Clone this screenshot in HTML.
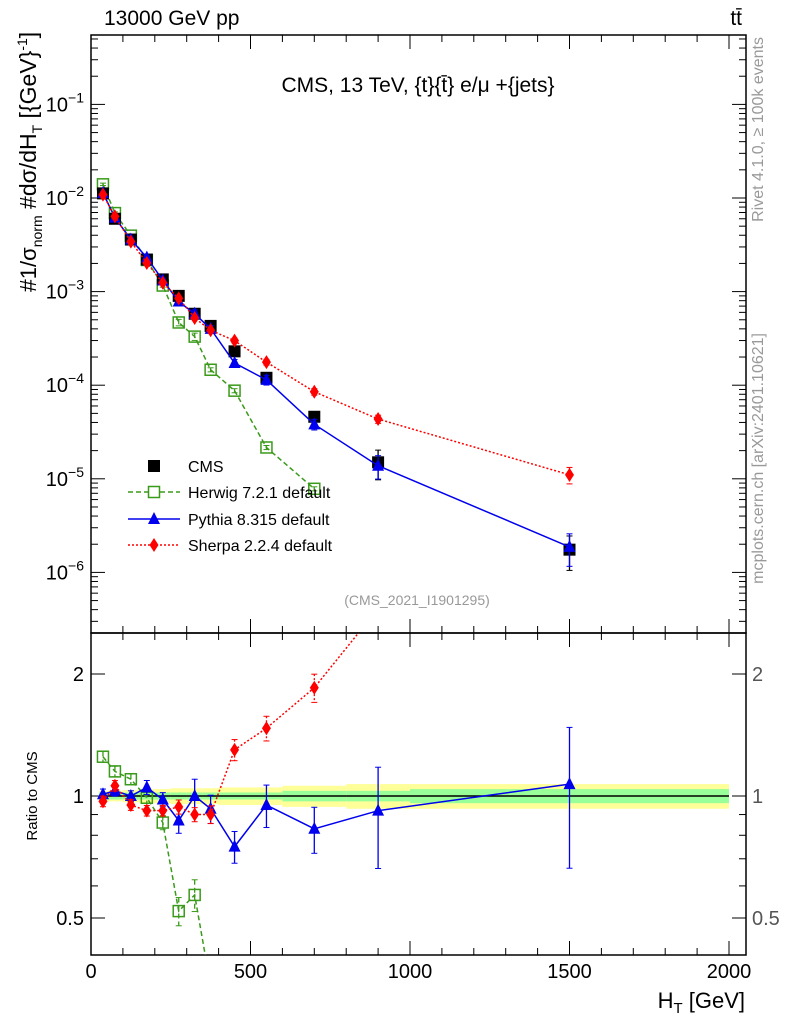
<!DOCTYPE html>
<html><head><meta charset="utf-8"><style>
html,body{margin:0;padding:0;background:#fff;overflow:hidden;width:786px;height:1024px}
svg{display:block}
svg text{font-family:"Liberation Sans",sans-serif}
</style></head><body>
<svg id="c" width="786" height="1024" xmlns="http://www.w3.org/2000/svg">
<rect width="786" height="1024" fill="#fff"/>
<g id="g"></g>
</svg>
<script>
const binsX=[37.5,75,125,175,225,275,325,375,450,550,700,900,1500];
const binEdges=[25,50,100,150,200,250,300,350,400,500,600,800,1000,2000];
const cmsVals=[1.12e-2,6.0e-3,3.6e-3,2.2e-3,1.35e-3,9.0e-4,5.8e-4,4.3e-4,2.3e-4,1.2e-4,4.6e-5,1.5e-5,1.75e-6];
const cmsErr=[0.03,0.03,0.03,0.03,0.03,0.04,0.04,0.05,0.06,0.07,0.1,0.35,0.4];
const bandGreen=[0.02,0.02,0.02,0.02,0.02,0.02,0.02,0.02,0.02,0.02,0.03,0.03,0.04];
const bandYellow=[0.03,0.03,0.035,0.04,0.04,0.045,0.045,0.045,0.05,0.05,0.06,0.07,0.07];
const herwigRatio=[1.25,1.15,1.1,0.99,0.86,0.52,0.57,0.34,0.38,0.18,0.17];
const herwigErr=[0.03,0.03,0.03,0.03,0.04,0.08,0.09,0.05,0.05,0.05,0.05];
const pythiaRatio=[1.01,1.03,1.0,1.05,0.98,0.87,1.0,0.93,0.75,0.95,0.83,0.92,1.07];
const pythiaErr=[0.03,0.03,0.03,0.04,0.04,0.07,0.1,0.08,0.09,0.12,0.13,0.28,0.38];
const sherpaRatio=[0.97,1.06,0.95,0.92,0.92,0.94,0.9,0.9,1.3,1.47,1.85,2.9,6.3];
const sherpaErr=[0.03,0.03,0.03,0.03,0.03,0.04,0.04,0.05,0.06,0.07,0.08,0.1,0.2];
const xTicks=[0,500,1000,1500,2000];
const yMainTicks=[-6,-5,-4,-3,-2,-1];
const yRatioTicks=[0.5,1,2];

const NS="http://www.w3.org/2000/svg";
const G=document.getElementById('g');
const L=91,R=746,T=35,MB=633,RB=955;
const X=v=>91+v*0.319;
const YM=v=>198-(Math.log10(v)+2)*93.6;
const YR=v=>796-Math.log2(v)*122;
function el(tag,at,parent){const e=document.createElementNS(NS,tag);for(const k in at)e.setAttribute(k,at[k]);(parent||G).appendChild(e);return e;}
function txt(s,at,parent){const e=el('text',at,parent);e.textContent=s;return e;}

const defs=el('defs',{});
const c1=el('clipPath',{id:'cm'},defs);el('rect',{x:L,y:T,width:R-L,height:MB-T},c1);
const c2=el('clipPath',{id:'cr'},defs);el('rect',{x:L,y:MB,width:R-L,height:RB-MB},c2);

const gb=el('g',{'clip-path':'url(#cr)'});


for(let i=0;i<binsX.length;i++){
  const x0=X(binEdges[i]),x1=X(binEdges[i+1]);
  el('rect',{x:x0,y:YR(1+bandYellow[i]),width:x1-x0,height:YR(1-bandYellow[i])-YR(1+bandYellow[i]),fill:'#ffff99'},gb);
  el('rect',{x:x0,y:YR(1+bandGreen[i]),width:x1-x0,height:YR(1-bandGreen[i])-YR(1+bandGreen[i]),fill:'#99ff99'},gb);
}
el('line',{x1:X(binEdges[0]),x2:X(2000),y1:YR(1),y2:YR(1),stroke:'#000','stroke-width':1.5},gb);

const f1=el('rect',{x:L,y:T,width:R-L,height:MB-T,fill:'none',stroke:'#000','stroke-width':1.5});


const f2=el('rect',{x:L,y:MB,width:R-L,height:RB-MB,fill:'none',stroke:'#000','stroke-width':1.5});



for(let v=0;v<=2050;v+=100){
  const big=v%500===0, x=X(v); if(x>R)break;
  const h=big?14:7;
  el('line',{x1:x,x2:x,y1:T,y2:T+h,stroke:'#000'});
  el('line',{x1:x,x2:x,y1:MB,y2:MB-h,stroke:'#000'});
  el('line',{x1:x,x2:x,y1:MB,y2:MB+h,stroke:'#000'});
  el('line',{x1:x,x2:x,y1:RB,y2:RB-h,stroke:'#000'});
}
xTicks.forEach(v=>{const t=txt(String(v),{x:X(v),y:978,'font-size':20,'text-anchor':'middle'});

});
const xt=txt('',{x:745,y:1008,'font-size':22,'text-anchor':'end'});
xt.innerHTML='H<tspan font-size="15" dy="5">T</tspan><tspan dy="-5"> [GeV]</tspan>';



for(let d=-7;d<=0;d++){for(let m=1;m<10;m++){const v=m*Math.pow(10,d);const y=YM(v);if(y<T||y>MB)continue;
 const h=m===1?14:7;
 el('line',{x1:L,x2:L+h,y1:y,y2:y,stroke:'#000'});el('line',{x1:R,x2:R-h,y1:y,y2:y,stroke:'#000'});}}
yMainTicks.forEach(p=>{const t=txt('',{x:84,y:YM(Math.pow(10,p))+7,'font-size':20,'text-anchor':'end'});
t.innerHTML='10<tspan font-size="14" dy="-9">'+(p<0?'−':'')+Math.abs(p)+'</tspan>';

});
[0.4,0.5,0.6,0.7,0.8,0.9,1,2].forEach(v=>{const y=YR(v);if(y>RB)return;const h=(v===1||v===2||v===0.5)?14:7;
 el('line',{x1:L,x2:L+h,y1:y,y2:y,stroke:'#000'});el('line',{x1:R,x2:R-h,y1:y,y2:y,stroke:'#000'});});
yRatioTicks.forEach(v=>{const s=String(v);
 const a=txt(s,{x:84,y:YR(v)+7,'font-size':20,'text-anchor':'end'});
 
 
 const b=txt(s,{x:752,y:YR(v)+7,'font-size':20,fill:'#555'});
 
 });
const rl=txt('Ratio to CMS',{x:0,y:0,'font-size':15,'text-anchor':'middle',transform:'translate(37,796) rotate(-90)'});



const yl=txt('',{x:0,y:0,'font-size':23,transform:'translate(36,292) rotate(-90)'});
yl.innerHTML='#<tspan font-size="22">1/σ</tspan><tspan font-size="14" dy="6">norm</tspan><tspan dy="-6"> #dσ/dH</tspan><tspan font-size="14" dy="6">T</tspan><tspan dy="-6"> [{GeV}</tspan><tspan font-size="14" dy="-9">-1</tspan><tspan dy="9">]</tspan>';



const t1=txt('13000 GeV pp',{x:104,y:25,'font-size':21});
const t2=txt('tt̄',{x:742,y:25,'font-size':21,'text-anchor':'end'});
const t3=txt('CMS, 13 TeV, {t}{t̄} e/μ +{jets}',{x:418,y:92,'font-size':21,'text-anchor':'middle'});
const t4=txt('(CMS_2021_I1901295)',{x:417,y:605,'font-size':14,'text-anchor':'middle',fill:'#999'});
const t5=txt('Rivet 4.1.0, ≥ 100k events',{x:0,y:0,'font-size':16,fill:'#999','text-anchor':'end',transform:'translate(763,37) rotate(-90)'});
const t6=txt('mcplots.cern.ch [arXiv:2401.10621]',{x:0,y:0,'font-size':16,fill:'#999','text-anchor':'end',transform:'translate(763,333) rotate(-90)'});

function series(name,ratio,err,color,dash,marker,abs){
  const gm=el('g',{'clip-path':'url(#cm)'});
  
  
  const gr=el('g',{'clip-path':'url(#cr)'});
  
  
  const n=ratio.length;
  let pm=[],pr=[];
  for(let i=0;i<n;i++){const v=abs?cmsVals[i]:cmsVals[i]*ratio[i];pm.push(X(binsX[i])+','+YM(v));pr.push(X(binsX[i])+','+YR(abs?1:ratio[i]));}
  if(!abs){
    el('polyline',{points:pm.join(' '),fill:'none',stroke:color,'stroke-width':1.5,'stroke-dasharray':dash},gm);
    el('polyline',{points:pr.join(' '),fill:'none',stroke:color,'stroke-width':1.5,'stroke-dasharray':dash},gr);
  }
  for(let i=0;i<n;i++){
    const x=X(binsX[i]);const r=abs?1:ratio[i];const v=cmsVals[i]*r;
    [[gm,YM(v*(1+err[i])),YM(Math.max(v*(1-err[i]),1e-9))],[gr,YR(r*(1+err[i])),YR(Math.max(r*(1-err[i]),0.01))]].forEach(([g,y1,y2])=>{
      if(abs&&g===gr)return;
      el('line',{x1:x,x2:x,y1:y1,y2:y2,stroke:color,'stroke-width':1.3,'stroke-dasharray':dash},g);
      el('line',{x1:x-3,x2:x+3,y1:y1,y2:y1,stroke:color},g);el('line',{x1:x-3,x2:x+3,y1:y2,y2:y2,stroke:color},g);
    });
    [[gm,YM(v)],[gr,YR(r)]].forEach(([g,y])=>{
      if(abs&&g===gr)return;
      let m;
      if(marker==='sq')m=el('rect',{x:x-6,y:y-6,width:12,height:12,fill:'#000'},g);
      else if(marker==='osq')m=el('rect',{x:x-5.5,y:y-5.5,width:11,height:11,fill:'none',stroke:color,'stroke-width':1.5},g);
      else if(marker==='tri')m=el('polygon',{points:`${x},${y-7} ${x-6},${y+5} ${x+6},${y+5}`,fill:color},g);
      else m=el('polygon',{points:`${x},${y-7} ${x-4.5},${y} ${x},${y+7} ${x+4.5},${y}`,fill:color},g);
      
      
    });
  }
}
series('herwig',herwigRatio,herwigErr,'#3a9a1a','5,3','osq');
series('cms',cmsVals,cmsErr,'#000','','sq',true);
series('pythia',pythiaRatio,pythiaErr,'#0000ee','','tri');
series('sherpa',sherpaRatio,sherpaErr,'#ff0000','2,2','dia');

const leg=[['CMS','#000','','sq'],['Herwig 7.2.1 default','#3a9a1a','5,3','osq'],['Pythia 8.315 default','#0000ee','','tri'],['Sherpa 2.2.4 default','#ff0000','2,2','dia']];
const ly=[466,492,519,545];
leg.forEach((e,i)=>{const g=el('g',{});
 
 
 const y=ly[i],x=154;
 if(e[3]!=='sq')el('line',{x1:128,x2:180,y1:y,y2:y,stroke:e[1],'stroke-width':1.5,'stroke-dasharray':e[2]},g);
 if(e[3]==='sq')el('rect',{x:x-6,y:y-6,width:12,height:12,fill:'#000'},g);
 else if(e[3]==='osq')el('rect',{x:x-5.5,y:y-5.5,width:11,height:11,fill:'#fff',stroke:e[1],'stroke-width':1.5},g);
 else if(e[3]==='tri')el('polygon',{points:`${x},${y-7} ${x-6},${y+5} ${x+6},${y+5}`,fill:e[1]},g);
 else el('polygon',{points:`${x},${y-7} ${x-4.5},${y} ${x},${y+7} ${x+4.5},${y}`,fill:e[1]},g);
 txt(e[0],{x:188,y:y+6,'font-size':16},g);
});
</script>
</body></html>
